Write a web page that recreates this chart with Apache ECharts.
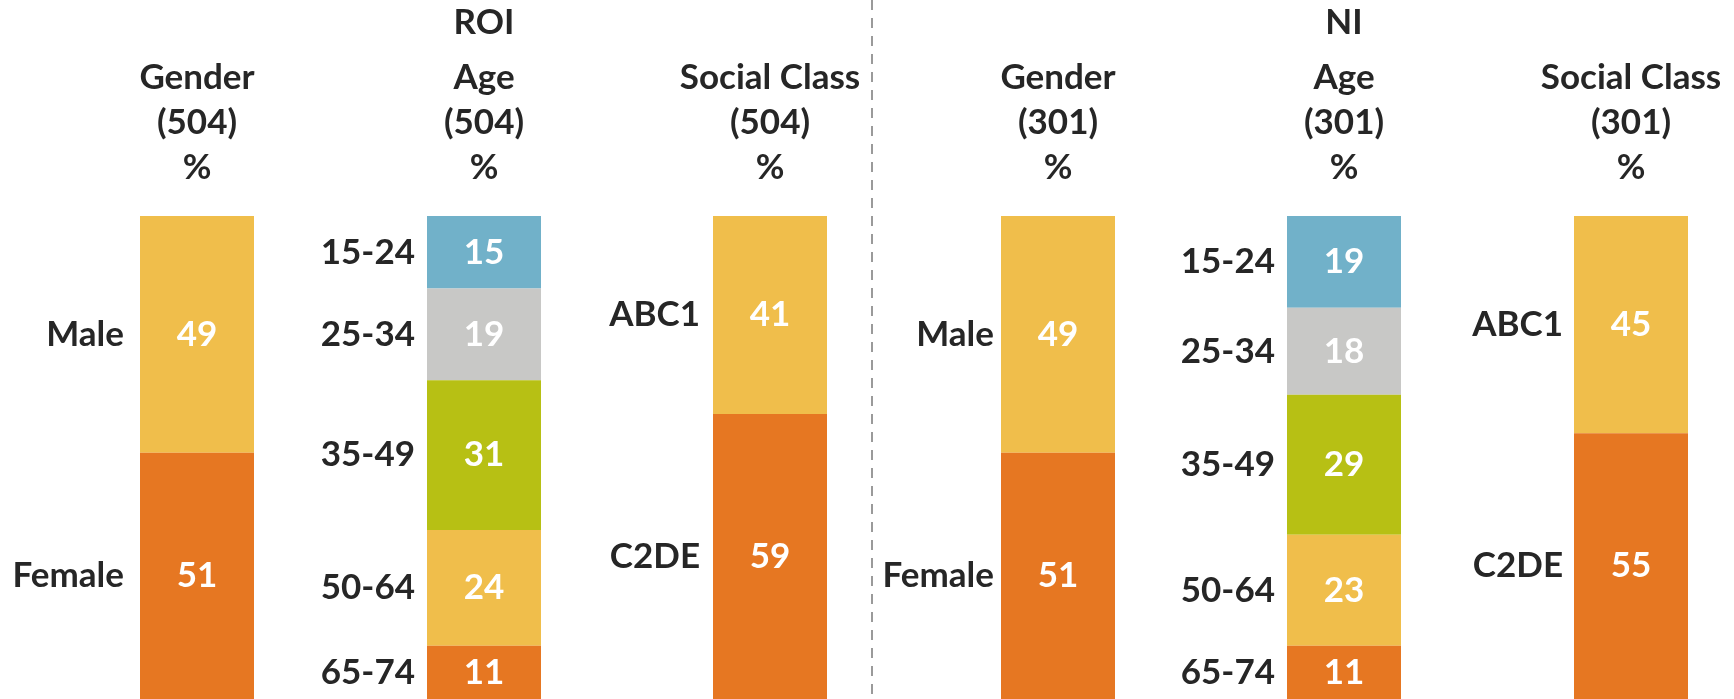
<html>
    <head>
        <meta charset="utf-8">
        <script src="https://cdn.jsdelivr.net/npm/echarts@6/dist/echarts.min.js"></script>
    </head>
    <body>
        <style>
            html, body, #main {
                width: 100%;
                height: 100%;
                margin: 0;
                background: #fff;
            }
        </style>
        <div id='main'></div>
        <script>
        // categories
        var genderCats = ['Male', 'Female'];
        var ageCats = ['15-24', '25-34', '35-49', '50-64', '65-74'];
        var classCats = ['ABC1', 'C2DE'];
        // values (%)
        var roiGender = [49, 51];
        var roiAge = [15, 19, 31, 24, 11];
        var roiClass = [41, 59];
        var niGender = [49, 51];
        var niAge = [19, 18, 29, 23, 11];
        var niClass = [45, 55];
        // headers
        var panelNames = ['Gender', 'Age', 'Social Class', 'Gender', 'Age', 'Social Class'];
        var panelBases = ['504', '504', '504', '301', '301', '301'];
        var regionNames = ['ROI', 'NI'];

        var YELLOW = '#F0BE4B', ORANGE = '#E67722', BLUE = '#71B1C9', GREY = '#C8C8C6', GREEN = '#B7C014';
        var twoCols = [YELLOW, ORANGE];
        var ageCols = [BLUE, GREY, GREEN, YELLOW, ORANGE];

        var panels = [
            {cats: genderCats, vals: roiGender, cols: twoCols, left: 140, gap: 16},
            {cats: ageCats, vals: roiAge, cols: ageCols, left: 427, gap: 12},
            {cats: classCats, vals: roiClass, cols: twoCols, left: 713, gap: 13},
            {cats: genderCats, vals: niGender, cols: twoCols, left: 1001, gap: 7},
            {cats: ageCats, vals: niAge, cols: ageCols, left: 1287, gap: 12},
            {cats: classCats, vals: niClass, cols: twoCols, left: 1574, gap: 11}
        ];
        var BAR_W = 114;
        var FONT = 'Lato, "Open Sans", sans-serif';
        var TXT = '#262626';

        var grids = [], xAxes = [], yAxes = [], series = [], graphics = [];
        panels.forEach(function (p, i) {
            grids.push({left: p.left, top: 216, width: BAR_W, height: 484});
            xAxes.push({type: 'category', gridIndex: i, data: [''], show: false});
            yAxes.push({type: 'value', gridIndex: i, min: 0, max: 100, inverse: true, show: false});
            p.vals.forEach(function (v, j) {
                series.push({
                    type: 'bar', xAxisIndex: i, yAxisIndex: i, stack: 'v' + i,
                    barWidth: '100%', barGap: '-100%', silent: true,
                    data: [v],
                    itemStyle: {color: p.cols[j]},
                    label: {show: true, position: 'inside', color: '#fff', fontFamily: FONT,
                        fontSize: 35, fontWeight: 'bold', formatter: '{c}'}
                });
                series.push({
                    type: 'bar', xAxisIndex: i, yAxisIndex: i, stack: 'n' + i,
                    barWidth: '100%', barGap: '-100%', silent: true,
                    data: [v],
                    itemStyle: {color: 'rgba(0,0,0,0)'},
                    label: {show: true, position: 'left', distance: p.gap, color: TXT, fontFamily: FONT,
                        fontSize: 35, fontWeight: 'bold', formatter: p.cats[j]}
                });
            });
            graphics.push({
                type: 'text', x: p.left + BAR_W / 2, y: 55,
                style: {text: panelNames[i] + '\n(' + panelBases[i] + ')\n%', align: 'center', verticalAlign: 'top',
                    lineHeight: 45, fill: TXT, font: 'bold 35px ' + FONT}
            });
        });
        regionNames.forEach(function (r, k) {
            var p = panels[k * 3 + 1];
            graphics.push({
                type: 'text', x: p.left + BAR_W / 2, y: 23,
                style: {text: r, align: 'center', verticalAlign: 'middle', fill: TXT, font: 'bold 35px ' + FONT}
            });
        });
        // divider between the two regions
        graphics.push({
            type: 'line', shape: {x1: 872, y1: 0, x2: 872, y2: 699},
            style: {stroke: '#9A9A9A', lineWidth: 2, lineDash: [10, 8]}
        });

        var chart = echarts.init(document.getElementById('main'));
        chart.setOption({
            animation: false,
            grid: grids,
            xAxis: xAxes,
            yAxis: yAxes,
            series: series,
            graphic: graphics
        });
        window.onresize = chart.resize;
        </script>
    </body>
</html>
